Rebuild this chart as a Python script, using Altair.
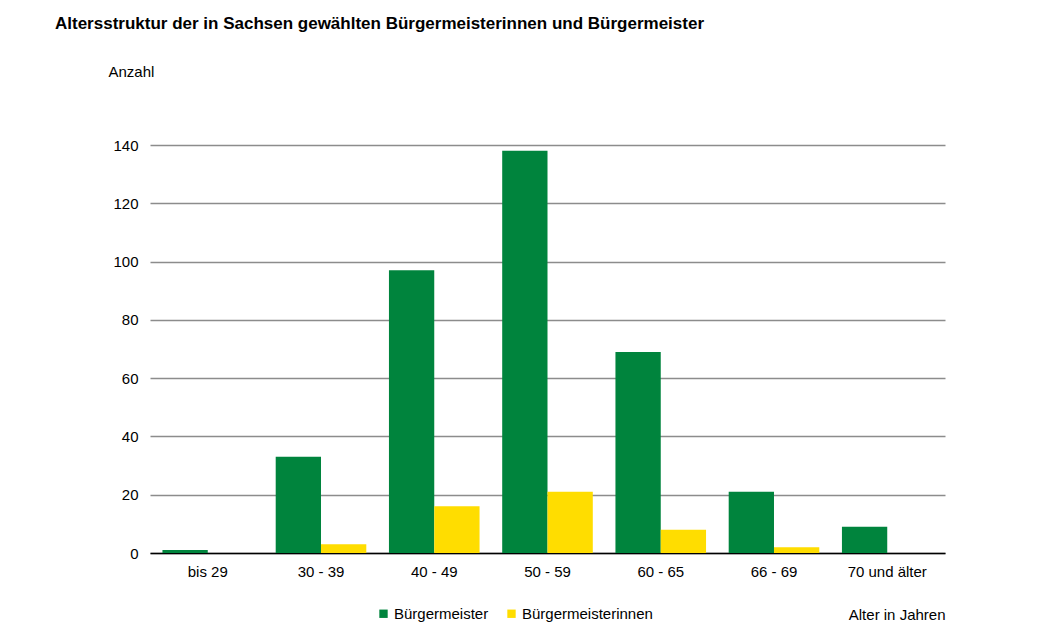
import altair as alt
import pandas as pd

categories = ["bis 29", "30 - 39", "40 - 49", "50 - 59", "60 - 65", "66 - 69", "70 und älter"]
buergermeister = [1, 33, 97, 138, 69, 21, 9]
buergermeisterinnen = [0, 3, 16, 21, 8, 2, 0]
series = ["Bürgermeister", "Bürgermeisterinnen"]
colors = ["#00843D", "#FFDD00"]
y_ticks = [0, 20, 40, 60, 80, 100, 120, 140]
title_text = "Altersstruktur der in Sachsen gewählten Bürgermeisterinnen und Bürgermeister"

rows = []
for c, a, b in zip(categories, buergermeister, buergermeisterinnen):
    rows.append({"Alter": c, "Serie": series[0], "Anzahl": a})
    rows.append({"Alter": c, "Serie": series[1], "Anzahl": b})
df = pd.DataFrame(rows)

FONT = "Liberation Sans"
FS = 15

bars = alt.Chart(df).mark_bar().encode(
    x=alt.X("Alter:N", sort=categories,
            scale=alt.Scale(paddingInner=0.2, paddingOuter=0.11),
            axis=alt.Axis(title="Alter in Jahren", labelAngle=0, ticks=False,
                          domainColor="#000000", domainWidth=1.5,
                          labelPadding=11, labelFontSize=FS, labelColor="#000000",
                          titleX=795, titleY=54, titleAnchor="end", titleAlign="right",
                          titleFontWeight="normal", titleFontSize=FS, titleColor="#000000")),
    xOffset=alt.XOffset("Serie:N", sort=series, scale=alt.Scale(paddingInner=0, paddingOuter=0)),
    y=alt.Y("Anzahl:Q", scale=alt.Scale(domain=[0, 140], nice=False),
            axis=alt.Axis(title="Anzahl", values=y_ticks, ticks=False, domain=False,
                          gridColor="#8c8c8c", gridWidth=1.3, labelPadding=12,
                          labelFontSize=FS, labelColor="#000000",
                          titleAngle=0, titleX=-42, titleY=-74, titleAlign="left",
                          titleBaseline="middle",
                          titleFontWeight="normal", titleFontSize=FS, titleColor="#000000")),
    color=alt.Color("Serie:N", sort=series,
                    scale=alt.Scale(domain=series, range=colors),
                    legend=alt.Legend(title=None, orient="none", direction="horizontal",
                                      legendX=226, legendY=461, symbolType="square",
                                      symbolSize=70, symbolStrokeWidth=0,
                                      labelFontSize=FS, labelColor="#000000",
                                      columnPadding=15, labelOffset=3)),
)

title = alt.Chart(pd.DataFrame({"t": [title_text]})).mark_text(
    align="left", baseline="alphabetic", fontSize=17, fontWeight="bold",
    font=FONT, color="#000000"
).encode(text="t:N", x=alt.value(-95), y=alt.value(-116))

chart = alt.layer(bars, title).properties(
    width=795, height=408,
    padding={"left": 142, "top": 137, "right": 95, "bottom": 70},
    autosize=alt.AutoSizeParams(type="none"),
).configure(font=FONT).configure_view(stroke=None)

chart.save("out.html", embed_options={"renderer": "svg", "actions": False})
